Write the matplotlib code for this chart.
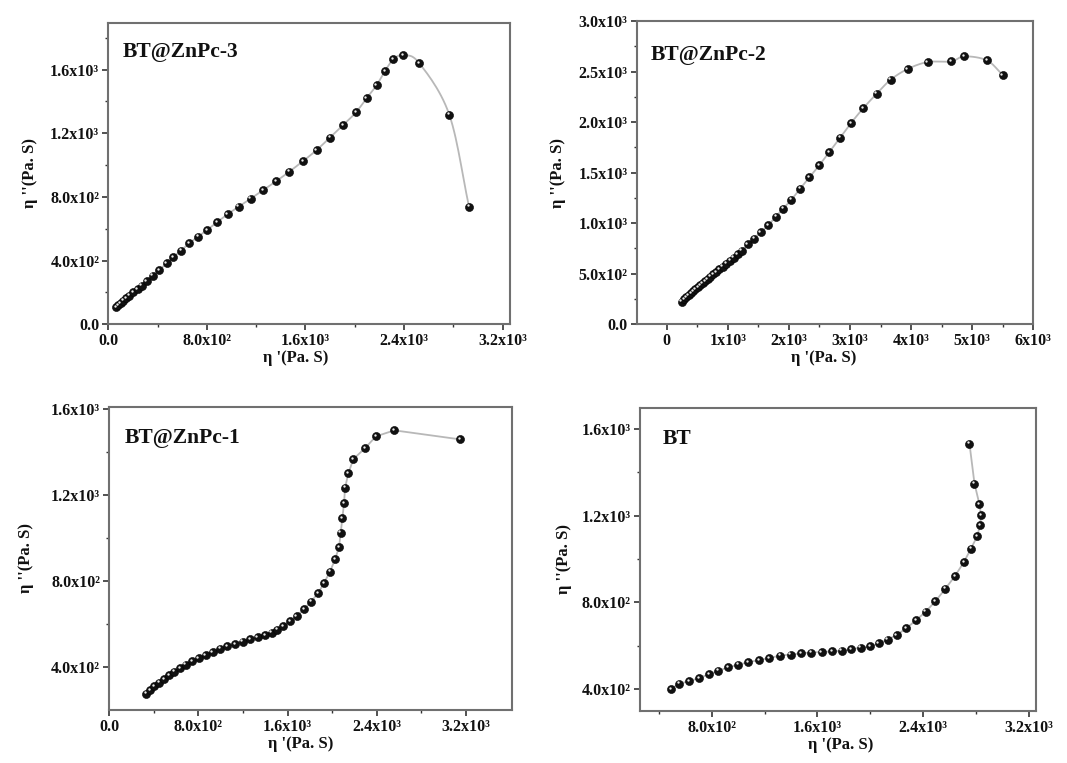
import matplotlib
matplotlib.use("Agg")
import matplotlib.pyplot as plt
import matplotlib.transforms as mtransforms
import numpy as np

plt.rcParams['font.family'] = ['Liberation Serif', 'DejaVu Serif']
plt.rcParams['font.weight'] = 'bold'

# ---- data: eta' / eta'' (Pa.s) ----
# BT@ZnPc-3
x_zn3 = [62, 81, 100, 122, 143, 170, 203, 238, 271, 311, 360, 414, 473, 527, 590,
         657, 730, 803, 885, 968, 1058, 1155, 1258, 1361, 1469, 1582, 1691, 1799,
         1907, 2010, 2096, 2178, 2245, 2313, 2394, 2524, 2767, 2927]
y_zn3 = [107, 121, 134, 149, 163, 180, 201, 222, 243, 270, 306, 341, 383, 421, 463,
         509, 551, 593, 643, 691, 739, 789, 844, 898, 959, 1026, 1095, 1173,
         1252, 1332, 1420, 1503, 1591, 1665, 1690, 1640, 1317, 739]

# BT@ZnPc-2
x_zn2 = [245, 287, 324, 360, 398, 435, 472, 510, 547, 589, 630, 673, 716, 764, 811,
         864, 916, 974, 1034, 1097, 1161, 1229, 1326, 1429, 1539, 1664, 1789, 1909,
         2040, 2182, 2335, 2499, 2662, 2837, 3017, 3219, 3437, 3666, 3944, 4272,
         4654, 4872, 5243, 5499]
y_zn2 = [224, 247, 267, 287, 307, 327, 346, 366, 386, 406, 426, 448, 471, 495, 518,
         544, 570, 600, 630, 659, 693, 726, 792, 848, 911, 980, 1066, 1145,
         1231, 1340, 1452, 1574, 1703, 1845, 1990, 2138, 2280, 2419, 2525, 2594,
         2600, 2650, 2610, 2465]

# BT@ZnPc-1
x_zn1 = [329, 365, 404, 446, 490, 535, 583, 634, 685, 742, 802, 864, 927, 993, 1059,
         1128, 1196, 1262, 1331, 1397, 1457, 1507, 1561, 1621, 1681, 1747, 1810,
         1875, 1926, 1980, 2025, 2061, 2076, 2091, 2106, 2115, 2145, 2189, 2294,
         2392, 2557, 3147]
y_zn1 = [276, 292, 310, 327, 344, 361, 378, 394, 411, 426, 440, 456, 470, 484, 496,
         507, 518, 529, 539, 549, 560, 573, 590, 614, 637, 669, 704,
         744, 790, 843, 900, 957, 1024, 1092, 1162, 1233, 1301, 1366, 1417,
         1472, 1500, 1458]

# BT
x_bt = [492, 553, 629, 704, 780, 850, 926, 1002, 1077, 1158, 1236, 1317, 1397, 1476,
        1554, 1632, 1708, 1783, 1854, 1927, 1997, 2063, 2131, 2199, 2270, 2343,
        2418, 2492, 2567, 2640, 2706, 2761, 2807, 2829, 2837, 2824, 2787, 2749]
y_bt = [400, 426, 437, 452, 469, 485, 501, 514, 524, 535, 544, 555, 560, 566,
        569, 572, 574, 577, 584, 592, 597, 611, 629, 650, 680, 717,
        757, 806, 863, 922, 985, 1048, 1105, 1155, 1201, 1253, 1347, 1531]

# ---- axis ticks ----
t08 = [0, 800, 1600, 2400, 3200]
l08 = ['0.0', '8.0x10²', '1.6x10³', '2.4x10³', '3.2x10³']
y_zn3_ticks = [0, 400, 800, 1200, 1600]
y_zn3_labels = ['0.0', '4.0x10²', '8.0x10²', '1.2x10³', '1.6x10³']
x_zn2_ticks = [0, 1000, 2000, 3000, 4000, 5000, 6000]
x_zn2_labels = ['0', '1x10³', '2x10³', '3x10³', '4x10³', '5x10³', '6x10³']
y_zn2_ticks = [0, 500, 1000, 1500, 2000, 2500, 3000]
y_zn2_labels = ['0.0', '5.0x10²', '1.0x10³', '1.5x10³', '2.0x10³', '2.5x10³', '3.0x10³']
y_hi_ticks = [400, 800, 1200, 1600]
y_hi_labels = ['4.0x10²', '8.0x10²', '1.2x10³', '1.6x10³']
x_bt_ticks = [800, 1600, 2400, 3200]
x_bt_labels = ['8.0x10²', '1.6x10³', '2.4x10³', '3.2x10³']


def spline_path(x, y, n=14):
    # Catmull-Rom curve through the points, in scaled units
    p = np.column_stack([x, y]).astype(float)
    sc = p.max(0) - p.min(0)
    q = p / sc
    q = np.vstack([2 * q[0] - q[1], q, 2 * q[-1] - q[-2]])
    t = np.linspace(0, 1, n, endpoint=False)[:, None]
    out = []
    for i in range(1, len(q) - 2):
        p0, p1, p2, p3 = q[i - 1], q[i], q[i + 1], q[i + 2]
        seg = 0.5 * (2 * p1 + (-p0 + p2) * t
                     + (2 * p0 - 5 * p1 + 4 * p2 - p3) * t ** 2
                     + (-p0 + 3 * p1 - 3 * p2 + p3) * t ** 3)
        out.append(seg)
    out.append(q[-2][None])
    r = np.vstack(out) * sc
    return r[:, 0], r[:, 1]


def draw(ax, x, y, smooth=True):
    if smooth:
        lx, ly = spline_path(x, y)
    else:
        lx, ly = x, y
    ax.plot(lx, ly, color='#b8b8b8', lw=1.3, zorder=2)
    ax.plot(x, y, 'o', ms=5.8, mfc='#111111', mec='#000000', mew=0.4, zorder=3)
    # little highlight so the dots look like balls
    shine = mtransforms.offset_copy(ax.transData, fig=ax.figure, x=-0.9, y=1.0, units='points')
    ax.plot(x, y, 'o', ms=1.7, mfc='#ececec', mec='none', transform=shine, zorder=4)


def style(ax, name, xt, xl, yt, yl, xlim, ylim, xminor, yminor, name_pos, xlab_x, ypad):
    ax.set_xlim(*xlim)
    ax.set_ylim(*ylim)
    ax.set_xticks(xt)
    ax.set_xticklabels(xl)
    ax.set_yticks(yt)
    ax.set_yticklabels(yl)
    ax.set_xticks(xminor, minor=True)
    ax.set_yticks(yminor, minor=True)
    for s in ax.spines.values():
        s.set_color('#707070')
        s.set_linewidth(1.5)
    ax.tick_params(which='major', direction='out', length=4, width=1.2,
                   color='#333333', labelsize=11.5, labelcolor='#111111', pad=2.5)
    ax.tick_params(which='minor', direction='out', length=2.5, width=1.0, color='#333333')
    for lab in ax.get_xticklabels() + ax.get_yticklabels():
        lab.set_fontweight('bold')
    ax.set_xlabel("η '(Pa. S)", fontsize=12, fontweight='bold', labelpad=1, color='#111111')
    ax.xaxis.set_label_coords(xlab_x, -0.085)
    ax.set_ylabel("η ''(Pa. S)", fontsize=12, fontweight='bold', labelpad=ypad, color='#111111')
    ax.text(name_pos[0], name_pos[1], name, transform=ax.transAxes, fontsize=15.5,
            fontweight='bold', va='center', ha='left', color='#111111')


fig = plt.figure(figsize=(10.67, 7.63), dpi=100)
ax1 = fig.add_axes([0.1015, 0.575, 0.3765, 0.3953])
ax2 = fig.add_axes([0.5967, 0.575, 0.3717, 0.3975])
ax3 = fig.add_axes([0.1024, 0.0695, 0.3772, 0.3975])
ax4 = fig.add_axes([0.5998, 0.0682, 0.3709, 0.3975])

draw(ax1, x_zn3, y_zn3)
style(ax1, 'BT@ZnPc-3', t08, l08, y_zn3_ticks, y_zn3_labels, (0, 3260), (0, 1895),
      [400, 1200, 2000, 2800], [200, 600, 1000, 1400, 1800], (0.036, 0.903), 0.467, 9)

draw(ax2, x_zn2, y_zn2)
style(ax2, 'BT@ZnPc-2', x_zn2_ticks, x_zn2_labels, y_zn2_ticks, y_zn2_labels,
      (-490, 6000), (0, 3000), [500, 1500, 2500, 3500, 4500, 5500],
      [250, 750, 1250, 1750, 2250, 2750], (0.035, 0.888), 0.472, 9)

draw(ax3, x_zn1, y_zn1, smooth=False)
style(ax3, 'BT@ZnPc-1', t08, l08, y_hi_ticks, y_hi_labels, (0, 3610), (200, 1610),
      [400, 1200, 2000, 2800], [600, 1000, 1400], (0.039, 0.898), 0.476, 12)

draw(ax4, x_bt, y_bt, smooth=False)
style(ax4, 'BT', x_bt_ticks, x_bt_labels, y_hi_ticks, y_hi_labels, (258, 3250), (300, 1697),
      [400, 1200, 2000, 2800], [600, 1000, 1400], (0.057, 0.896), 0.507, 7)

fig.savefig('out.png', dpi=100, facecolor='white')
